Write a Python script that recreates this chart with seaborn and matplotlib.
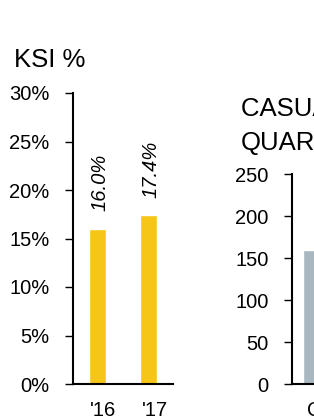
import pandas as pd
import seaborn as sns
import matplotlib.pyplot as plt
from matplotlib.transforms import ScaledTranslation

# KSI share per year
years = ["'16", "'17"]
ksi_pct = [16.0, 17.4]

# casualties per quarter (only the first bar is visible in the crop)
quarters = ["Q1"]
casualties = [160]

sns.set_theme(style="ticks")
plt.rcParams['font.family'] = ['Liberation Sans', 'DejaVu Sans']
plt.rcParams['text.color'] = 'black'
plt.rcParams['xtick.color'] = 'black'
plt.rcParams['ytick.color'] = 'black'
plt.rcParams['axes.labelcolor'] = 'black'

fig = plt.figure(figsize=(3.14, 4.18), dpi=100)

# left panel: KSI %
ax1 = fig.add_axes([73 / 314, 34 / 418, 100 / 314, 291 / 418])
df1 = pd.DataFrame({'year': years, 'ksi': ksi_pct})
sns.barplot(data=df1, x='year', y='ksi', color='#F5C518', saturation=1,
            width=0.33, ax=ax1)
ax1.set_xlim(-0.48, 1.48)
ax1.set_ylim(0, 30)
ax1.set_yticks(range(0, 31, 5))
ax1.set_yticklabels([f'{v}%' for v in range(0, 31, 5)])
ax1.set_xlabel('')
ax1.set_ylabel('')
for i, v in enumerate(ksi_pct):
    ax1.text(i + 0.05, v + 1.8, f'{v:.1f}%', rotation=90, ha='center', va='bottom',
             fontsize=14.5, fontstyle='italic')
ax1.tick_params(axis='x', length=0, labelsize=14.5, pad=12)
ax1.tick_params(axis='y', length=6, width=1, labelsize=14.5, pad=11)
for lab in ax1.get_xticklabels():
    lab.set_transform(lab.get_transform() + ScaledTranslation(6 / 100, 0, fig.dpi_scale_trans))
sns.despine(ax=ax1)
for s in ['left', 'bottom']:
    ax1.spines[s].set_linewidth(1.5)
    ax1.spines[s].set_color('black')
fig.text(14 / 314, 1 - 67 / 418, 'KSI %', fontsize=18.5, ha='left', va='baseline')

# right panel: casualties per quarter (cut off by the figure edge)
ax2 = fig.add_axes([292 / 314, 34 / 418, 100 / 314, 210 / 418])
df2 = pd.DataFrame({'quarter': quarters, 'cas': casualties})
sns.barplot(data=df2, x='quarter', y='cas', color='#A9B7C0', saturation=1,
            width=0.72, ax=ax2)
ax2.set_xlim(-0.57, 1.43)
ax2.set_ylim(0, 250)
ax2.set_yticks(range(0, 251, 50))
ax2.set_xlabel('')
ax2.set_ylabel('')
ax2.tick_params(axis='x', length=0, labelsize=14.5, pad=12)
ax2.tick_params(axis='y', length=6, width=1, labelsize=14.5, pad=11)
sns.despine(ax=ax2)
for s in ['left', 'bottom']:
    ax2.spines[s].set_linewidth(1.5)
    ax2.spines[s].set_color('black')
fig.text(241 / 314, 1 - 150 / 418, 'CASUALTIES PER\nQUARTER', fontsize=18.5,
         ha='left', va='baseline', linespacing=1.55)

fig.savefig('out.png', dpi=100)
